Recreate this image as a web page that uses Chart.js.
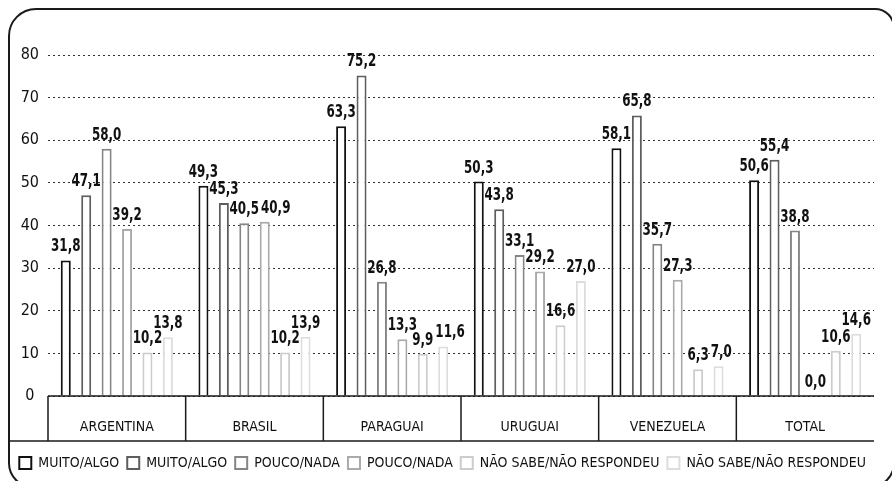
<!DOCTYPE html>
<html>
<head>
<meta charset="utf-8">
<script src="https://cdn.jsdelivr.net/npm/chart.js@4.4.1/dist/chart.umd.min.js"></script>
<style>
  html, body { margin: 0; padding: 0; background: #fff; overflow: hidden; }
  #wrap { position: relative; width: 892px; height: 481px; }
  #frame {
    position: absolute; left: 8px; top: 8px; width: 887px; height: 480px;
    box-sizing: border-box; border: 2px solid #1a1a1a;
    border-radius: 28px 20px 25px 25px;
  }
  canvas { position: absolute; left: 0; top: 0; }
</style>
</head>
<body>
<div id="wrap">
  <div id="frame"></div>
  <canvas id="myBarChart" width="892" height="481"></canvas>
</div>
<script>
// categories and series
const countries = ['ARGENTINA', 'BRASIL', 'PARAGUAI', 'URUGUAI', 'VENEZUELA', 'TOTAL'];
const seriesNames = ['MUITO/ALGO', 'MUITO/ALGO', 'POUCO/NADA', 'POUCO/NADA', 'NÃO SABE/NÃO RESPONDEU', 'NÃO SABE/NÃO RESPONDEU'];
const muitoAlgoA = [31.8, 49.3, 63.3, 50.3, 58.1, 50.6];
const muitoAlgoB = [47.1, 45.3, 75.2, 43.8, 65.8, 55.4];
const poucoNadaA = [58.0, 40.5, 26.8, 33.1, 35.7, 38.8];
const poucoNadaB = [39.2, 40.9, 13.3, 29.2, 27.3, 0.0];
const naoSabeA = [10.2, 10.2, 9.9, 16.6, 6.3, 10.6];
const naoSabeB = [13.8, 13.9, 11.6, 27.0, 7.0, 14.6];
const yTicks = [0, 10, 20, 30, 40, 50, 60, 70, 80];

const seriesValues = [muitoAlgoA, muitoAlgoB, poucoNadaA, poucoNadaB, naoSabeA, naoSabeB];
const strokeColors = ['#111111', '#5e5e5e', '#858585', '#aaaaaa', '#cccccc', '#dddddd'];
const narrow = '"DejaVu Sans Condensed", "Liberation Sans Narrow", sans-serif';

// numbers above each bar, squeezed a bit and nudged right when they would collide
const valueLabels = {
  id: 'valueLabels',
  afterDatasetsDraw(chart) {
    const ctx = chart.ctx;
    const squeeze = 0.78;
    ctx.save();
    ctx.font = 'bold 17px ' + narrow;
    ctx.fillStyle = '#111';
    ctx.textAlign = 'left';
    ctx.textBaseline = 'bottom';
    countries.forEach((c, j) => {
      let prev = null;
      chart.data.datasets.forEach((ds, i) => {
        const bar = chart.getDatasetMeta(i).data[j];
        const text = ds.data[j].toFixed(1).replace('.', ',');
        const w = ctx.measureText(text).width * squeeze;
        let left = bar.x - w / 2;
        const base = bar.y - 5;
        if (prev && Math.abs(prev.base - base) < 14 && left < prev.right + 2) {
          left = prev.right + 2;
        }
        ctx.save();
        ctx.translate(left, base);
        ctx.scale(squeeze, 1);
        ctx.fillText(text, 0, 0);
        ctx.restore();
        prev = { right: left + w, base: base };
      });
    });
    ctx.restore();
  }
};

// boxes round the category names
const categoryFrame = {
  id: 'categoryFrame',
  afterDraw(chart) {
    const { ctx, chartArea } = chart;
    const x = chart.scales.x;
    const top = chartArea.bottom;
    const bottom = top + 45;
    ctx.save();
    ctx.strokeStyle = '#1a1a1a';
    ctx.lineWidth = 1.5;
    ctx.beginPath();
    ctx.moveTo(chartArea.left, top);
    ctx.lineTo(chartArea.right, top);
    ctx.moveTo(9, bottom);
    ctx.lineTo(chartArea.right, bottom);
    for (let i = 0; i < countries.length; i++) {
      const edge = i === 0 ? chartArea.left : (x.getPixelForValue(i - 1) + x.getPixelForValue(i)) / 2;
      ctx.moveTo(edge, top);
      ctx.lineTo(edge, bottom);
    }
    ctx.stroke();
    ctx.restore();
  }
};

const ctx = document.getElementById('myBarChart').getContext('2d');
const myBarChart = new Chart(ctx, {
  type: 'bar',
  data: {
    labels: countries,
    datasets: seriesValues.map((values, i) => ({
      label: seriesNames[i],
      data: values,
      backgroundColor: '#ffffff',
      borderColor: strokeColors[i],
      borderWidth: 2,
      categoryPercentage: 0.89,
      barPercentage: 0.49,
    })),
  },
  options: {
    responsive: false,
    animation: false,
    layout: { padding: { top: 55, right: 18, bottom: 1, left: 0 } },
    plugins: {
      tooltip: { enabled: false },
      legend: {
        position: 'bottom',
        align: 'end',
        labels: {
          color: '#111',
          font: { family: narrow, size: 14 },
          boxWidth: 12,
          boxHeight: 12,
          padding: 8,
        },
      },
    },
    scales: {
      x: {
        grid: { display: false },
        border: { display: false },
        ticks: { color: '#111', font: { family: narrow, size: 14 }, padding: 15 },
        afterFit: s => { s.height = 52; },
      },
      y: {
        min: 0,
        max: 80,
        afterBuildTicks: s => { s.ticks = yTicks.map(v => ({ value: v })); },
        ticks: { color: '#111', font: { family: narrow, size: 16 }, padding: 9, crossAlign: 'center' },
        grid: { color: '#333', lineWidth: 1, drawTicks: false },
        border: { display: false, dash: [2, 3] },
        afterFit: s => { s.width = 48; },
      },
    },
  },
  plugins: [valueLabels, categoryFrame],
});
</script>
</body>
</html>
